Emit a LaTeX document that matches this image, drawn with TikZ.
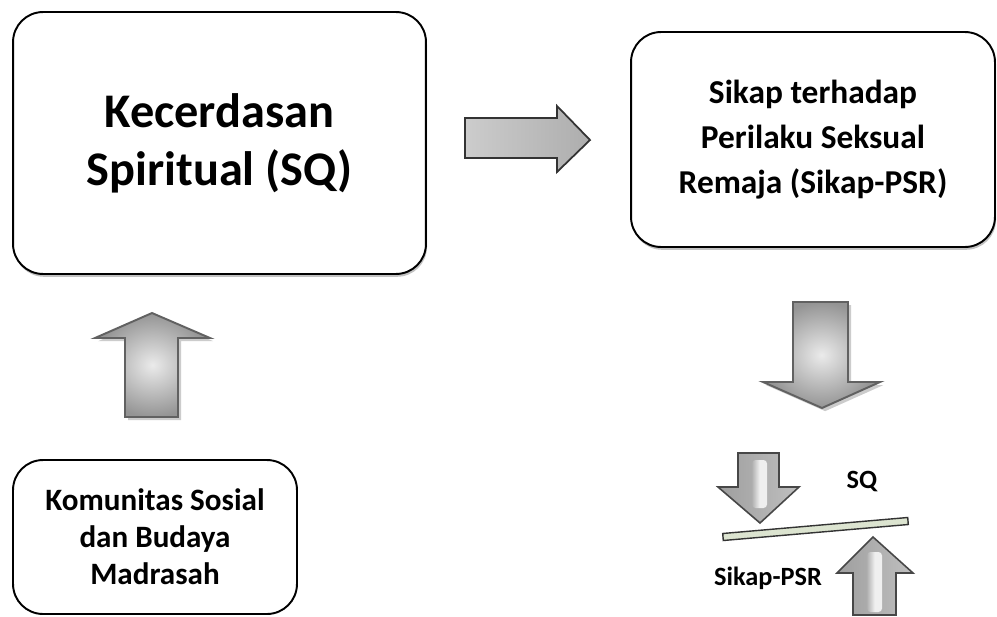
\documentclass[tikz,border=0pt]{standalone}
\usepackage{fontspec}
\setmainfont{Carlito}
\usetikzlibrary{shadows}

\tikzset{
  box/.style={draw, line width=1.1pt, rounded corners=0.6cm, fill=white, align=center},
  boxshade/.style={drop shadow={shadow xshift=0.6pt, shadow yshift=-1.6pt, fill=black!40, opacity=0.6}},
  blockarrow/.style={draw=black!62, line width=1.1pt, inner color=black!8, outer color=black!42,
    drop shadow={shadow xshift=1.8pt, shadow yshift=-1.8pt, fill=black!25, opacity=0.8}},
  smallarrow/.style={draw=black!72, line width=0.9pt, left color=black!38, right color=black!25},
  stripe/.style={left color=black!30, right color=white, middle color=white, opacity=0.8, rounded corners=2pt},
  lbl/.style={font=\bfseries\fontsize{15}{18}\selectfont}
}

\begin{document}
\begin{tikzpicture}[x=0.02cm, y=-0.02cm]
  \useasboundingbox (0,0) rectangle (997,616);

  % boxes
  \node[box, boxshade, minimum width=8.26cm, minimum height=5.24cm,
        font=\bfseries\fontsize{27.5}{33}\selectfont] (kecerdasan) at (219.5,143) {Kecerdasan\\Spiritual (SQ)};
  \node[box, boxshade, minimum width=7.28cm, minimum height=4.3cm,
        font=\bfseries\fontsize{19}{25.5}\selectfont] (sikap) at (813,139.5) {Sikap terhadap\\Perilaku Seksual\\Remaja (Sikap-PSR)};
  \node[box, minimum width=5.68cm, minimum height=3.08cm,
        font=\bfseries\fontsize{17.7}{21}\selectfont] (komunitas) at (155,537) {Komunitas Sosial\\dan Budaya\\Madrasah};

  % block arrows
  \path[draw=black!80, line width=1pt, left color=black!20, right color=black!32]
    (465,118) -- (557,118) -- (557,106) -- (590,140) -- (557,172) -- (557,158) -- (465,158) -- cycle;
  \path[blockarrow] (125,417) -- (125,338) -- (95,338) -- (152,313) -- (210,338) -- (178,338) -- (178,417) -- cycle;
  \path[blockarrow] (793,302) -- (848,302) -- (848,382) -- (880,382) -- (822,408) -- (763,382) -- (793,382) -- cycle;

  % balance
  \path[smallarrow] (738,453) -- (779,453) -- (779,487) -- (799,487) -- (760,523) -- (718,487) -- (738,487) -- cycle;
  \path[stripe] (752,460) rectangle (767,508);
  \path[smallarrow] (853,615) -- (853,573) -- (837,573) -- (873,537) -- (913,573) -- (896,573) -- (896,615) -- cycle;
  \path[stripe] (867,552) rectangle (882,612);
  \path[draw=black!80, line width=0.8pt, fill={rgb,255:red,220;green,228;blue,208}]
    (722.7,533.5) -- (907.7,517.5) -- (908.3,524.5) -- (723.3,540.5) -- cycle;

  \node[lbl] (lblSQ) at (862,482) {SQ};
  \node[lbl] (lblPSR) at (768,578) {Sikap-PSR};
\end{tikzpicture}
\end{document}
